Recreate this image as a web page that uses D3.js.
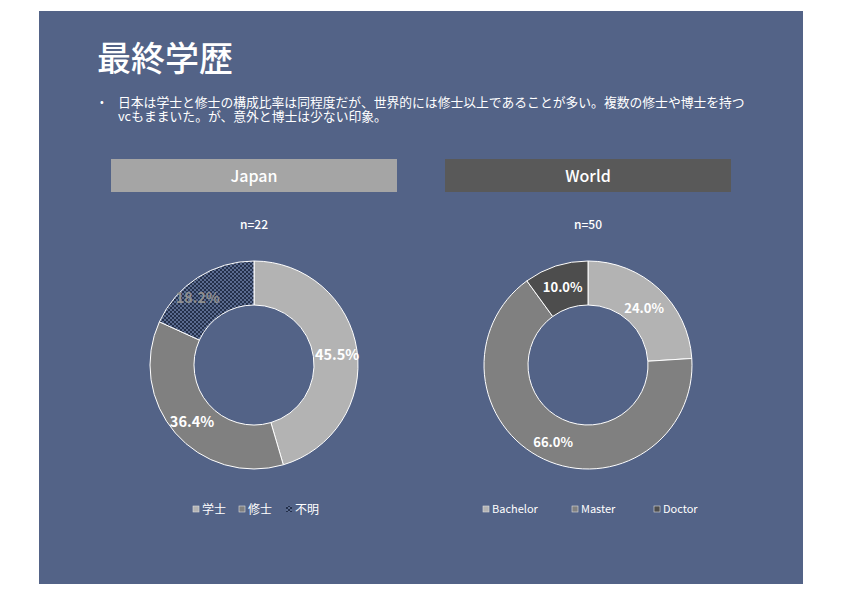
<!DOCTYPE html>
<html>
<head>
<meta charset="utf-8">
<script src="https://cdn.jsdelivr.net/npm/d3@7"></script>
<style>
  body { margin: 0; background: #fff; }
  svg { display: block; font-family: "Noto Sans CJK JP", "Noto Sans", sans-serif; }
</style>
</head>
<body>
<svg id="chart" width="842" height="595"></svg>
<script>
// data
var japanLabels = ["学士", "修士", "不明"];
var japanValues = [45.5, 36.4, 18.2];
var worldLabels = ["Bachelor", "Master", "Doctor"];
var worldValues = [24.0, 66.0, 10.0];
var bulletLines = [
  "日本は学士と修士の構成比率は同程度だが、世界的には修士以上であることが多い。複数の修士や博士を持つ",
  "vcもままいた。が、意外と博士は少ない印象。"
];

var svg = d3.select("#chart");

// pattern for the "unknown" slice
var defs = svg.append("defs");
var pat = defs.append("pattern")
  .attr("id", "dots")
  .attr("width", 4).attr("height", 4)
  .attr("patternUnits", "userSpaceOnUse");
pat.append("rect").attr("width", 4).attr("height", 4).attr("fill", "#24304a");
pat.append("rect").attr("x", 0).attr("y", 0).attr("width", 2).attr("height", 2).attr("fill", "#5a6b90");
pat.append("rect").attr("x", 2).attr("y", 2).attr("width", 2).attr("height", 2).attr("fill", "#5a6b90");

// slide background
svg.append("rect")
  .attr("x", 39).attr("y", 11)
  .attr("width", 764).attr("height", 573)
  .attr("fill", "#536387");

// title + bullet
svg.append("text")
  .attr("x", 97).attr("y", 71)
  .attr("fill", "#fff")
  .style("font-size", "34px")
  .style("font-weight", 500)
  .text("最終学歴");

svg.append("text").attr("x", 100).attr("y", 106).attr("fill", "#fff")
  .style("font-size", "11px").text("•");
svg.selectAll(".bullet")
  .data(bulletLines)
  .join("text")
  .attr("class", "bullet")
  .attr("x", 118)
  .attr("y", function(d, i) { return 107 + i * 13.5; })
  .attr("fill", "#fff")
  .style("font-size", "12.8px")
  .text(function(d) { return d; });

function drawDonut(opts) {
  var g = svg.append("g");

  // header band
  g.append("rect")
    .attr("x", opts.cx - 143).attr("y", 159)
    .attr("width", 286).attr("height", 33)
    .attr("fill", opts.headerColor);
  g.append("text")
    .attr("x", opts.cx).attr("y", 182)
    .attr("text-anchor", "middle")
    .attr("fill", "#fff")
    .style("font-size", "16px").style("font-weight", 500)
    .text(opts.title);

  g.append("text")
    .attr("x", opts.cx).attr("y", 229)
    .attr("text-anchor", "middle")
    .attr("fill", "#fff")
    .style("font-size", "12px").style("font-weight", 500)
    .text(opts.n);

  var pie = d3.pie().sort(null);
  var arc = d3.arc().innerRadius(60).outerRadius(104);
  var labelArc = d3.arc().innerRadius(82).outerRadius(82);
  var arcs = pie(opts.values);

  var donut = g.append("g").attr("transform", "translate(" + opts.cx + ",365)");
  donut.selectAll("path")
    .data(arcs)
    .join("path")
    .attr("d", arc)
    .attr("fill", function(d, i) { return opts.colors[i]; })
    .attr("stroke", "#fff")
    .attr("stroke-width", 1);

  donut.selectAll("text")
    .data(arcs)
    .join("text")
    .attr("transform", function(d, i) {
      var c = labelArc.centroid(d);
      return "translate(" + (c[0] + opts.labelShift[i][0]) + "," + (c[1] + opts.labelShift[i][1]) + ")";
    })
    .attr("dy", "0.35em")
    .attr("text-anchor", "middle")
    .attr("fill", function(d, i) { return opts.labelColors[i]; })
    .style("font-size", opts.labelSize)
    .style("font-weight", "bold")
    .text(function(d) { return d.data.toFixed(1) + "%"; });

  // legend
  var leg = g.selectAll(".leg")
    .data(opts.labels)
    .join("g")
    .attr("transform", function(d, i) { return "translate(" + opts.legendX[i] + ",509)"; });
  leg.append("rect")
    .attr("x", 0).attr("y", -3)
    .attr("width", 6).attr("height", 6)
    .attr("fill", function(d, i) { return opts.colors[i]; })
    .attr("stroke", function(d, i) { return i === 2 && opts.title === "Japan" ? "none" : "#ddd"; })
    .attr("stroke-width", 0.6);
  leg.append("text")
    .attr("x", 9).attr("dy", "0.38em")
    .attr("fill", "#fff")
    .style("font-size", opts.legendSize)
    .text(function(d) { return d; });
}

drawDonut({
  cx: 254,
  title: "Japan",
  headerColor: "#a5a5a5",
  n: "n=22",
  values: japanValues,
  labels: japanLabels,
  colors: ["#b3b3b3", "#808080", "url(#dots)"],
  labelColors: ["#fff", "#fff", "#8f8f8f"],
  labelShift: [[2, 2], [0, 3], [-12, 2]],
  labelSize: "14.5px",
  legendX: [193, 239, 286],
  legendSize: "12px"
});

drawDonut({
  cx: 588,
  title: "World",
  headerColor: "#595959",
  n: "n=50",
  values: worldValues,
  labels: worldLabels,
  colors: ["#b3b3b3", "#808080", "#4d4d4d"],
  labelColors: ["#fff", "#fff", "#fff"],
  labelShift: [[0, 3], [0, 3], [0, 0]],
  labelSize: "13px",
  legendX: [483, 572, 654],
  legendSize: "11px"
});
</script>
</body>
</html>
